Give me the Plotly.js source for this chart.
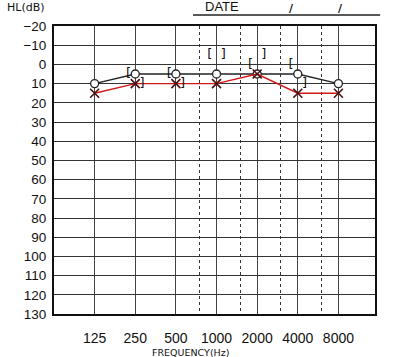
<!DOCTYPE html>
<html><head><meta charset="utf-8">
<script src="https://cdn.plot.ly/plotly-3.0.1.min.js"></script>
<style>html,body{margin:0;padding:0;background:#fff}#c{width:400px;height:357px}</style>
</head><body><div id="c"></div>
<script>
var freqs = [125, 250, 500, 1000, 2000, 4000, 8000];
var freqLabels = ['125', '250', '500', '1000', '2000', '4000', '8000'];
var halfOctaves = [750, 1500, 3000, 6000];
var rightAir = [10, 5, 5, 5, 5, 5, 10];      // O
var leftAir = [15, 10, 10, 10, 5, 15, 15];   // X
var boneOpenFreqs = [250, 500, 1000, 2000, 4000];   // "["
var boneOpenVals = [5, 5, -5, 0, 0];
var boneCloseFreqs = [250, 500, 1000, 2000, 4000];  // "]"
var boneCloseVals = [10, 10, -5, -5, 10];
var dbTicks = [-20,-10,0,10,20,30,40,50,60,70,80,90,100,110,120,130];

var fam = 'Liberation Sans, Arial, sans-serif';
var traces = [
  {x: freqs, y: rightAir, mode: 'lines+markers', type: 'scatter',
   line: {color: '#222', width: 1.3},
   marker: {symbol: 'circle', size: 8, color: '#fff', line: {color: '#222', width: 1.3}}},
  {x: freqs, y: leftAir, mode: 'lines+markers', type: 'scatter',
   line: {color: '#d01818', width: 1.4},
   marker: {symbol: 'x-thin-open', size: 9, color: '#4a1010', line: {color: '#4a1010', width: 1.6}}},
  {x: boneOpenFreqs, y: boneOpenVals, mode: 'text', type: 'scatter', text: boneOpenFreqs.map(function(){return '[\u00a0';}),
   textposition: 'middle left', textfont: {family: 'DejaVu Sans', size: 13, color: '#111'}},
  {x: boneCloseFreqs, y: boneCloseVals, mode: 'text', type: 'scatter', text: boneCloseFreqs.map(function(){return '\u00a0]';}),
   textposition: 'middle right', textfont: {family: 'DejaVu Sans', size: 13, color: '#111'}}
];

var shapes = [{type: 'line', xref: 'paper', yref: 'paper', x0: 0.433, x1: 1.016, y0: 1.038, y1: 1.038,
               line: {color: '#222', width: 1.5}}];

var layout = {
  width: 400, height: 357,
  margin: {l: 54, r: 25, t: 26, b: 43},
  paper_bgcolor: '#fff', plot_bgcolor: '#fff',
  showlegend: false,
  font: {family: fam, size: 12, color: '#111'},
  xaxis: {type: 'log', range: [Math.log10(62.5), Math.log10(14930)],
    tickmode: 'array', tickvals: freqs, ticktext: freqLabels,
    showgrid: true, gridcolor: '#444', gridwidth: 1,
    minor: {tickmode: 'array', tickvals: halfOctaves, showgrid: true, gridcolor: '#333', gridwidth: 1, griddash: '3px,3px', ticks: ''},
    showline: true, mirror: true, linecolor: '#111', linewidth: 2,
    ticks: '', ticklabelstandoff: 10, tickfont: {family: fam, size: 14, color: '#111'}, zeroline: false},
  yaxis: {range: [130, -20], tickmode: 'array', tickvals: dbTicks,
    showgrid: true, gridcolor: '#333', gridwidth: 1,
    showline: true, mirror: true, linecolor: '#111', linewidth: 2,
    ticks: '', ticklabelstandoff: 3, tickfont: {family: fam, size: 13.5, color: '#111'}, zeroline: false},
  shapes: shapes,
  annotations: [
    {text: 'HL(dB)', xref: 'paper', yref: 'paper', x: -0.153, y: 1.063, xanchor: 'left', yanchor: 'middle', showarrow: false,
     font: {family: 'DejaVu Sans', size: 11, color: '#111'}},
    {text: 'DATE', xref: 'paper', yref: 'paper', x: 0.464, y: 1.066, xanchor: 'left', yanchor: 'middle', showarrow: false,
     font: {family: fam, size: 13, color: '#111'}},
    {text: '/', xref: 'paper', yref: 'paper', x: 0.741, y: 1.062, xanchor: 'center', yanchor: 'middle', showarrow: false,
     font: {family: 'DejaVu Sans', size: 11, color: '#111', weight: 'bold'}},
    {text: '/', xref: 'paper', yref: 'paper', x: 0.891, y: 1.062, xanchor: 'center', yanchor: 'middle', showarrow: false,
     font: {family: 'DejaVu Sans', size: 11, color: '#111', weight: 'bold'}},
    {text: 'FREQUENCY(Hz)', xref: 'paper', yref: 'paper', x: 0.424, y: -0.135, xanchor: 'center', yanchor: 'middle', showarrow: false,
     font: {family: 'DejaVu Sans', size: 9.5, color: '#111'}}
  ]
};
Plotly.newPlot('c', traces, layout, {staticPlot: true, displayModeBar: false});
</script></body></html>
